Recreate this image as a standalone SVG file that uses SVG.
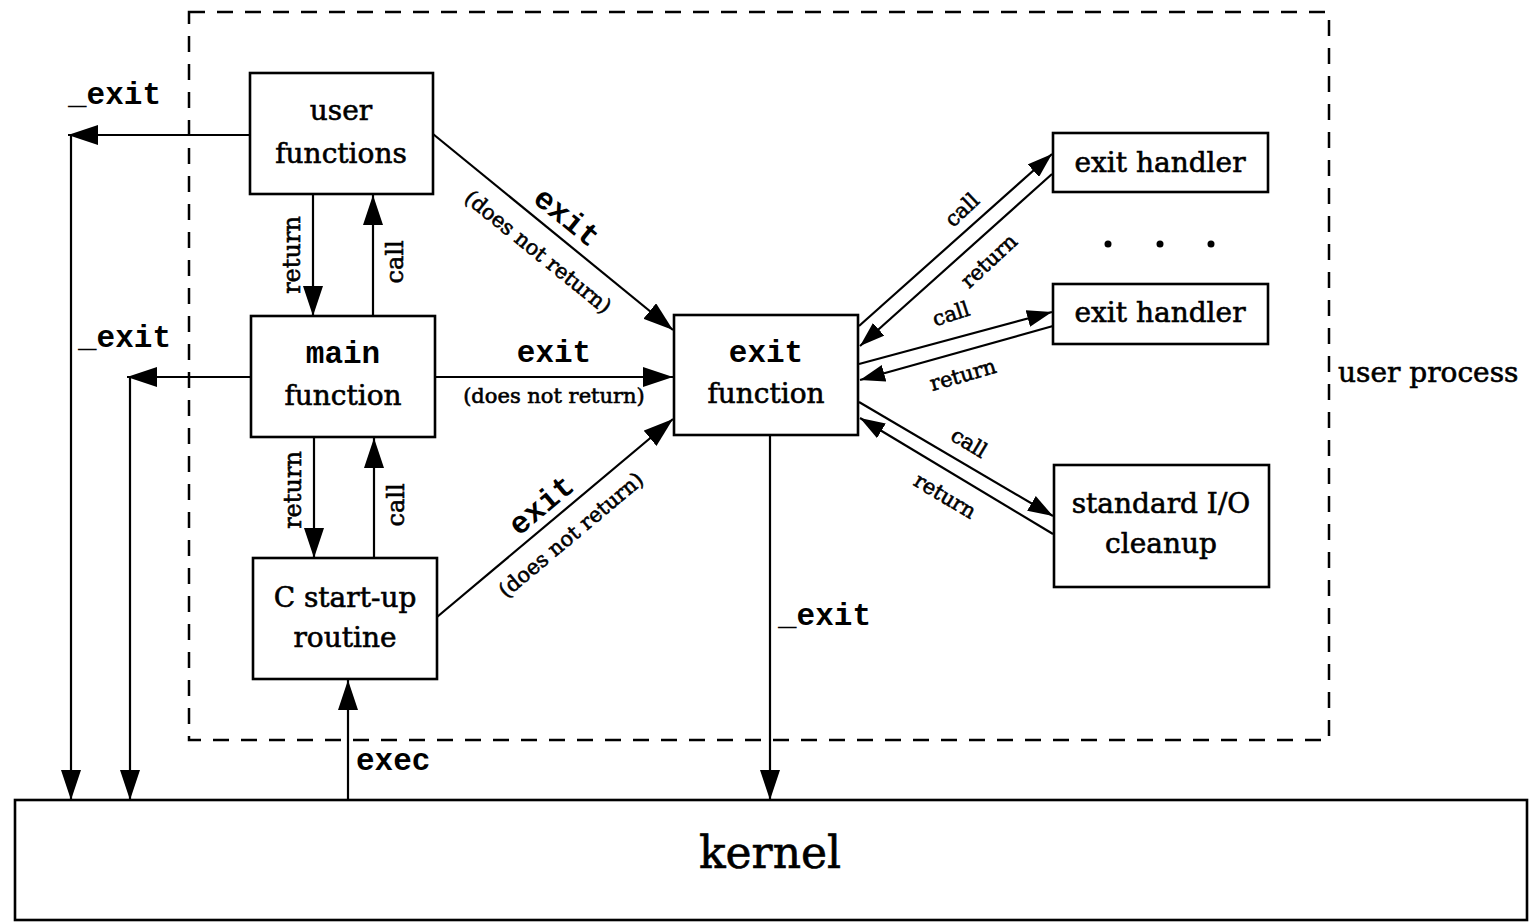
<svg xmlns="http://www.w3.org/2000/svg" width="1533" height="922" viewBox="0 0 1533 922">
<style>
.box{fill:#fff;stroke:#000;stroke-width:2.6}
.ln{fill:none;stroke:#000;stroke-width:2.2}
.serif{font-family:"DejaVu Serif","Liberation Serif",serif;fill:#000;stroke:#000;stroke-width:0.6}
.mono{font-family:"Liberation Mono","DejaVu Sans Mono",monospace;font-weight:bold;fill:#000}
.n{font-size:28px;text-anchor:middle}
.lbl{font-size:21px;text-anchor:middle}
.m{font-size:31px}
.v{font-size:24px;text-anchor:middle}
.r{font-size:21px;text-anchor:middle}
</style>
<defs>
<marker id="ah" viewBox="0 0 30 20" refX="30" refY="10" markerWidth="30" markerHeight="20" markerUnits="userSpaceOnUse" orient="auto">
<path d="M0,0 L30,10 L0,20 z" fill="#000"/>
</marker>
<marker id="as" viewBox="0 0 25 17" refX="25" refY="8.5" markerWidth="25" markerHeight="17" markerUnits="userSpaceOnUse" orient="auto">
<path d="M0,0 L25,8.5 L0,17 z" fill="#000"/>
</marker>
</defs>
<rect width="1533" height="922" fill="#fff"/>

<g id="user-process">
<rect x="189" y="12" width="1140" height="728" fill="none" stroke="#000" stroke-width="2.5" stroke-dasharray="16,12"/>
<text class="serif" x="1338" y="382" font-size="28">user process</text>
</g>

<g id="connectors">
<path class="ln" d="M250,135 H68" marker-end="url(#ah)"/>
<path class="ln" d="M71,135 V800" marker-end="url(#ah)"/>
<path class="ln" d="M250,377 H127" marker-end="url(#ah)"/>
<path class="ln" d="M130,377 V800" marker-end="url(#ah)"/>
<path class="ln" d="M348,800 V680" marker-end="url(#ah)"/>
<path class="ln" d="M770,436 V800" marker-end="url(#ah)"/>
<path class="ln" d="M313,195 V316" marker-end="url(#ah)"/>
<path class="ln" d="M373,316 V195" marker-end="url(#ah)"/>
<path class="ln" d="M314,438 V558" marker-end="url(#ah)"/>
<path class="ln" d="M374,558 V438" marker-end="url(#ah)"/>
<path class="ln" d="M433,134 L673,330" marker-end="url(#ah)"/>
<path class="ln" d="M436,377 H673" marker-end="url(#ah)"/>
<path class="ln" d="M437,617 L673,419" marker-end="url(#ah)"/>
<path class="ln" d="M859,326 L1052,154" marker-end="url(#as)"/>
<path class="ln" d="M1052,174 L860,346" marker-end="url(#as)"/>
<path class="ln" d="M859,364 L1052,312" marker-end="url(#as)"/>
<path class="ln" d="M1053,326 L860,380" marker-end="url(#as)"/>
<path class="ln" d="M859,402 L1053,516" marker-end="url(#as)"/>
<path class="ln" d="M1053,534 L860,418" marker-end="url(#as)"/>

<text class="mono m" x="68" y="104">_exit</text>
<text class="mono m" x="78" y="347">_exit</text>
<text class="mono m" x="356" y="770">exec</text>
<text class="mono m" x="778" y="625">_exit</text>
<text class="mono m" x="554" y="362" text-anchor="middle">exit</text>
<text class="serif lbl" x="554" y="403">(does not return)</text>
<text class="mono m" text-anchor="middle" transform="translate(567,217) rotate(39)" y="10">exit</text>
<text class="serif lbl" transform="translate(538,252) rotate(39)" y="7">(does not return)</text>
<text class="mono m" text-anchor="middle" transform="translate(541,505) rotate(-40)" y="10">exit</text>
<text class="serif lbl" transform="translate(571,535) rotate(-40)" y="7">(does not return)</text>
<text class="serif v" transform="translate(300,255) rotate(-90)">return</text>
<text class="serif v" transform="translate(403,262) rotate(-90)">call</text>
<text class="serif v" transform="translate(301,490) rotate(-90)">return</text>
<text class="serif v" transform="translate(404,505) rotate(-90)">call</text>
<text class="serif r" transform="translate(962,210) rotate(-43)" y="7">call</text>
<text class="serif r" transform="translate(989,261) rotate(-43)" y="7">return</text>
<text class="serif r" transform="translate(951,314) rotate(-18)" y="7">call</text>
<text class="serif r" transform="translate(963,375) rotate(-16)" y="7">return</text>
<text class="serif r" transform="translate(969,443) rotate(31)" y="7">call</text>
<text class="serif r" transform="translate(945,496) rotate(31)" y="7">return</text>
</g>

<g id="user-functions">
<rect class="box" x="250" y="73" width="183" height="121"/>
<text class="serif n" x="341" y="120">user</text>
<text class="serif n" x="341" y="163">functions</text>
</g>
<g id="main-function">
<rect class="box" x="251" y="316" width="184" height="121"/>
<text class="mono m" x="343" y="363" text-anchor="middle">main</text>
<text class="serif n" x="343" y="405">function</text>
</g>
<g id="c-startup">
<rect class="box" x="253" y="558" width="184" height="121"/>
<text class="serif n" x="345" y="607">C start-up</text>
<text class="serif n" x="345" y="647">routine</text>
</g>
<g id="exit-function">
<rect class="box" x="674" y="315" width="184" height="120"/>
<text class="mono m" x="766" y="362" text-anchor="middle">exit</text>
<text class="serif n" x="766" y="403">function</text>
</g>
<g id="exit-handler-1">
<rect class="box" x="1053" y="133" width="215" height="59"/>
<text class="serif n" x="1160" y="172">exit handler</text>
</g>
<g id="dots">
<circle cx="1108" cy="244" r="3.5" fill="#000"/>
<circle cx="1160" cy="244" r="3.5" fill="#000"/>
<circle cx="1211" cy="244" r="3.5" fill="#000"/>
</g>
<g id="exit-handler-2">
<rect class="box" x="1053" y="284" width="215" height="60"/>
<text class="serif n" x="1160" y="322">exit handler</text>
</g>
<g id="stdio-cleanup">
<rect class="box" x="1054" y="465" width="215" height="122"/>
<text class="serif n" x="1161" y="513">standard I/O</text>
<text class="serif n" x="1161" y="553">cleanup</text>
</g>
<g id="kernel">
<rect class="box" x="15" y="800" width="1512" height="120"/>
<text class="serif" x="770" y="868" font-size="44" text-anchor="middle">kernel</text>
</g>
</svg>
